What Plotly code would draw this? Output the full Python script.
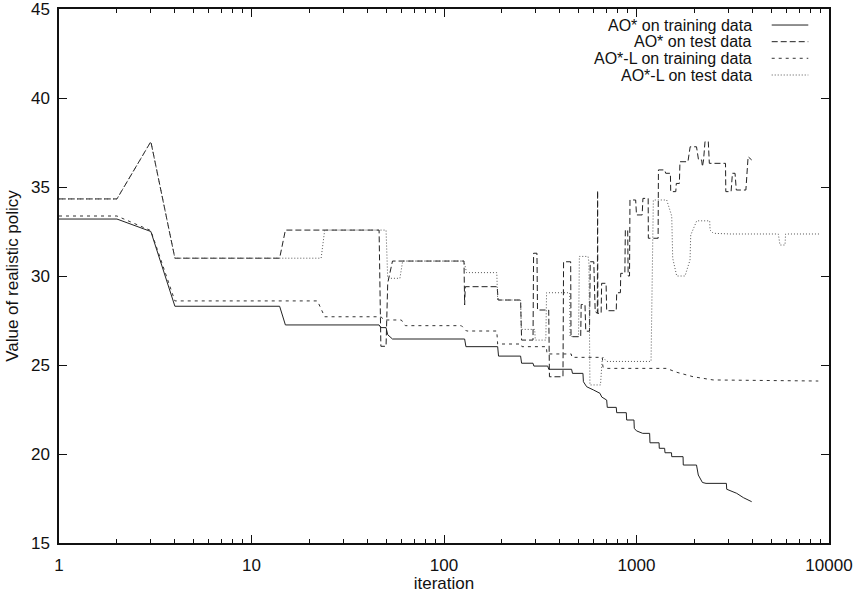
import plotly.graph_objects as go

# ---- data (iteration, value) ----
ao_train_it = [1, 2, 3, 4, 14, 15, 46, 47, 50, 51, 54, 128, 130, 190, 192, 250, 253, 290, 293,
               346, 350, 460, 465, 527, 530, 551, 597, 646, 660, 700, 705, 785, 789, 885, 889,
               970, 974, 1000, 1077, 1170, 1175, 1310, 1313, 1400, 1406, 1520, 1524, 1745, 1750,
               2050, 2094, 2200, 2297, 2930, 2942, 3316, 3589, 3966]
ao_train_val = [33.2, 33.2, 32.5, 28.3, 28.3, 27.25, 27.25, 27.1, 27.1, 26.7, 26.46, 26.46, 26.03,
                26.03, 25.5, 25.5, 25.1, 25.1, 24.94, 24.94, 24.76, 24.76, 24.53, 24.53, 24.06,
                23.78, 23.6, 23.41, 23.2, 23.03, 22.62, 22.62, 22.32, 22.32, 21.91, 21.91, 21.44,
                21.3, 21.16, 21.16, 20.63, 20.63, 20.32, 20.32, 20.07, 20.07, 19.85, 19.85, 19.38,
                19.38, 18.82, 18.4, 18.35, 18.35, 18.02, 17.79, 17.55, 17.32]

ao_test_it = [1, 2, 3, 4, 14, 15, 46, 47, 50, 51, 54, 127, 128, 129, 189, 191, 250, 253, 290, 292,
              304, 306, 350, 353, 415, 418, 455, 457, 513, 516, 540, 545, 570, 575, 600, 610, 626,
              628, 630, 655, 659, 695, 700, 785, 789, 825, 828, 870, 875, 900, 905, 920, 925, 990,
              1000, 1070, 1080, 1150, 1152, 1295, 1300, 1400, 1418, 1500, 1506, 1600, 1610, 1670,
              1682, 1850, 1900, 2050, 2100, 2180, 2200, 2230, 2270, 2360, 2390, 2900, 2910, 3100,
              3150, 3250, 3300, 3700, 3800, 3966]
ao_test_val = [34.33, 34.33, 37.55, 31.0, 31.0, 32.58, 32.58, 26.05, 26.05, 29.6, 30.84, 30.84, 28.37,
               29.4, 29.4, 28.65, 28.65, 26.4, 26.4, 31.28, 31.28, 28.09, 28.09, 24.34, 24.34, 30.8,
               30.8, 26.59, 26.59, 28.4, 28.4, 26.9, 26.9, 30.8, 30.8, 28.0, 27.9, 34.8, 27.9, 27.9,
               29.59, 29.59, 28.05, 28.05, 29.06, 29.06, 30.15, 30.15, 32.58, 32.58, 30.0, 30.0,
               34.27, 34.27, 33.43, 33.43, 34.36, 34.36, 32.12, 32.12, 35.96, 35.96, 35.77, 35.77,
               34.74, 34.74, 35.2, 35.2, 36.42, 36.42, 37.26, 37.26, 36.52, 36.52, 36.14, 36.52,
               37.55, 37.55, 36.33, 36.33, 34.74, 34.74, 35.77, 35.77, 34.83, 34.83, 36.7, 36.52]

aol_train_it = [1, 2, 3, 4, 22, 24, 47, 49, 60, 63, 123, 131, 188, 190, 252, 254, 340, 343, 458, 462,
                665, 669, 700, 1430, 1620, 1970, 2500, 5000, 8800]
aol_train_val = [33.37, 33.37, 32.55, 28.6, 28.6, 27.71, 27.71, 27.53, 27.53, 27.21, 27.21, 26.91,
                 26.91, 26.18, 26.18, 26.03, 26.03, 25.62, 25.62, 25.43, 25.43, 24.9, 24.81, 24.81,
                 24.59, 24.34, 24.16, 24.12, 24.1]

aol_test_it = [1, 2, 3, 4, 23, 24, 50, 51, 59, 61, 127, 131, 188, 190, 250, 252, 296, 298, 338, 341,
               450, 452, 500, 505, 560, 566, 573, 650, 665, 690, 700, 1190, 1223, 1435, 1524, 1542,
               1618, 1786, 1897, 1913, 2055, 2400, 2411, 2506, 3060, 5454, 5564, 5908, 5950, 8978]
aol_test_val = [34.33, 34.33, 37.55, 31.0, 31.0, 32.58, 32.58, 29.87, 29.87, 30.84, 30.84, 30.19,
                30.19, 28.65, 28.65, 27.0, 27.0, 26.4, 26.4, 29.06, 29.06, 26.6, 26.6, 31.1, 31.1,
                30.8, 23.88, 23.88, 25.47, 25.3, 25.2, 25.2, 34.27, 34.27, 33.37, 31.0, 30.0, 30.0,
                30.9, 32.3, 33.1, 33.1, 32.58, 32.4, 32.36, 32.36, 31.74, 31.74, 32.36, 32.36]

series_names = ["AO* on training data", "AO* on test data",
                "AO*-L on training data", "AO*-L on test data"]
x_tick_vals = [1, 10, 100, 1000, 10000]
x_tick_text = ["1", "10", "100", "1000", "10000"]
x_minor_vals = [m * d for d in (1, 10, 100, 1000) for m in range(2, 10)]

# ---- styles ----
styles = [
    dict(color="#222222", width=1, dash="solid"),
    dict(color="#222222", width=1, dash="6px,3px"),
    dict(color="#333333", width=1, dash="3px,4px"),
    dict(color="#555555", width=1, dash="1px,2px"),
]
FONT = "Liberation Sans, Arial, sans-serif"
INK = "#111111"

fig = go.Figure()
data = [(ao_train_it, ao_train_val), (ao_test_it, ao_test_val),
        (aol_train_it, aol_train_val), (aol_test_it, aol_test_val)]
for (xs, ys), name, st in zip(data, series_names, styles):
    fig.add_trace(go.Scatter(x=xs, y=ys, mode="lines", name=name, line=st,
                             showlegend=False))

# invisible trace to carry the mirrored top axis (minor ticks on top, as in gnuplot)
fig.add_trace(go.Scatter(x=ao_train_it[:1], y=ao_train_val[:1], xaxis="x2", mode="lines",
                         line=dict(width=0), showlegend=False, hoverinfo="skip"))

# manual gnuplot-style key (text right-aligned, sample on the right)
row_y = [0.970, 0.9388, 0.9077, 0.8764]
for name, st, yy in zip(series_names, styles, row_y):
    fig.add_annotation(xref="paper", yref="paper", x=0.901, y=yy, text=name,
                       showarrow=False, xanchor="right", yanchor="middle",
                       borderpad=0, font=dict(family=FONT, size=16, color=INK))
    fig.add_shape(type="line", xref="paper", yref="paper", x0=0.9256, x1=0.9731,
                  y0=yy, y1=yy, line=st)

fig.update_layout(
    xaxis=dict(type="log", range=[0, 4], tickvals=x_tick_vals, ticktext=x_tick_text,
               ticks="inside", ticklen=8, tickwidth=1, tickcolor=INK,
               showline=True, linecolor=INK, linewidth=1.5, mirror=True,
               showgrid=False, zeroline=False, automargin=False, ticklabelstandoff=6,
               ticklabeloverflow="allow",
               minor=dict(tickvals=x_minor_vals, ticks="inside", ticklen=4, tickwidth=1,
                          tickcolor=INK, showgrid=False),
               title=dict(text="iteration", font=dict(family=FONT, size=17, color=INK),
                          standoff=4),
               tickfont=dict(family=FONT, size=17, color=INK)),
    xaxis2=dict(type="log", range=[0, 4], overlaying="x", side="top",
                tickvals=x_tick_vals, showticklabels=False,
                ticks="inside", ticklen=8, tickwidth=1, tickcolor=INK,
                showline=False, showgrid=False, zeroline=False, automargin=False,
                minor=dict(tickvals=x_minor_vals, ticks="inside", ticklen=4, tickwidth=1,
                           tickcolor=INK, showgrid=False)),
    yaxis=dict(range=[15, 45], dtick=5, ticks="inside", ticklen=8, tickwidth=1,
               tickcolor=INK, showline=True, linecolor=INK, linewidth=1.5,
               mirror="ticks", showgrid=False, zeroline=False, automargin=False,
               ticklabelstandoff=4, ticklabeloverflow="allow",
               title=dict(text="Value of realistic policy",
                          font=dict(family=FONT, size=17, color=INK), standoff=8),
               tickfont=dict(family=FONT, size=17, color=INK)),
    width=855, height=593, margin=dict(l=59, r=26, t=9, b=50),
    plot_bgcolor="white", paper_bgcolor="white",
    font=dict(family=FONT, size=17, color=INK))
fig.write_html("out.html")
